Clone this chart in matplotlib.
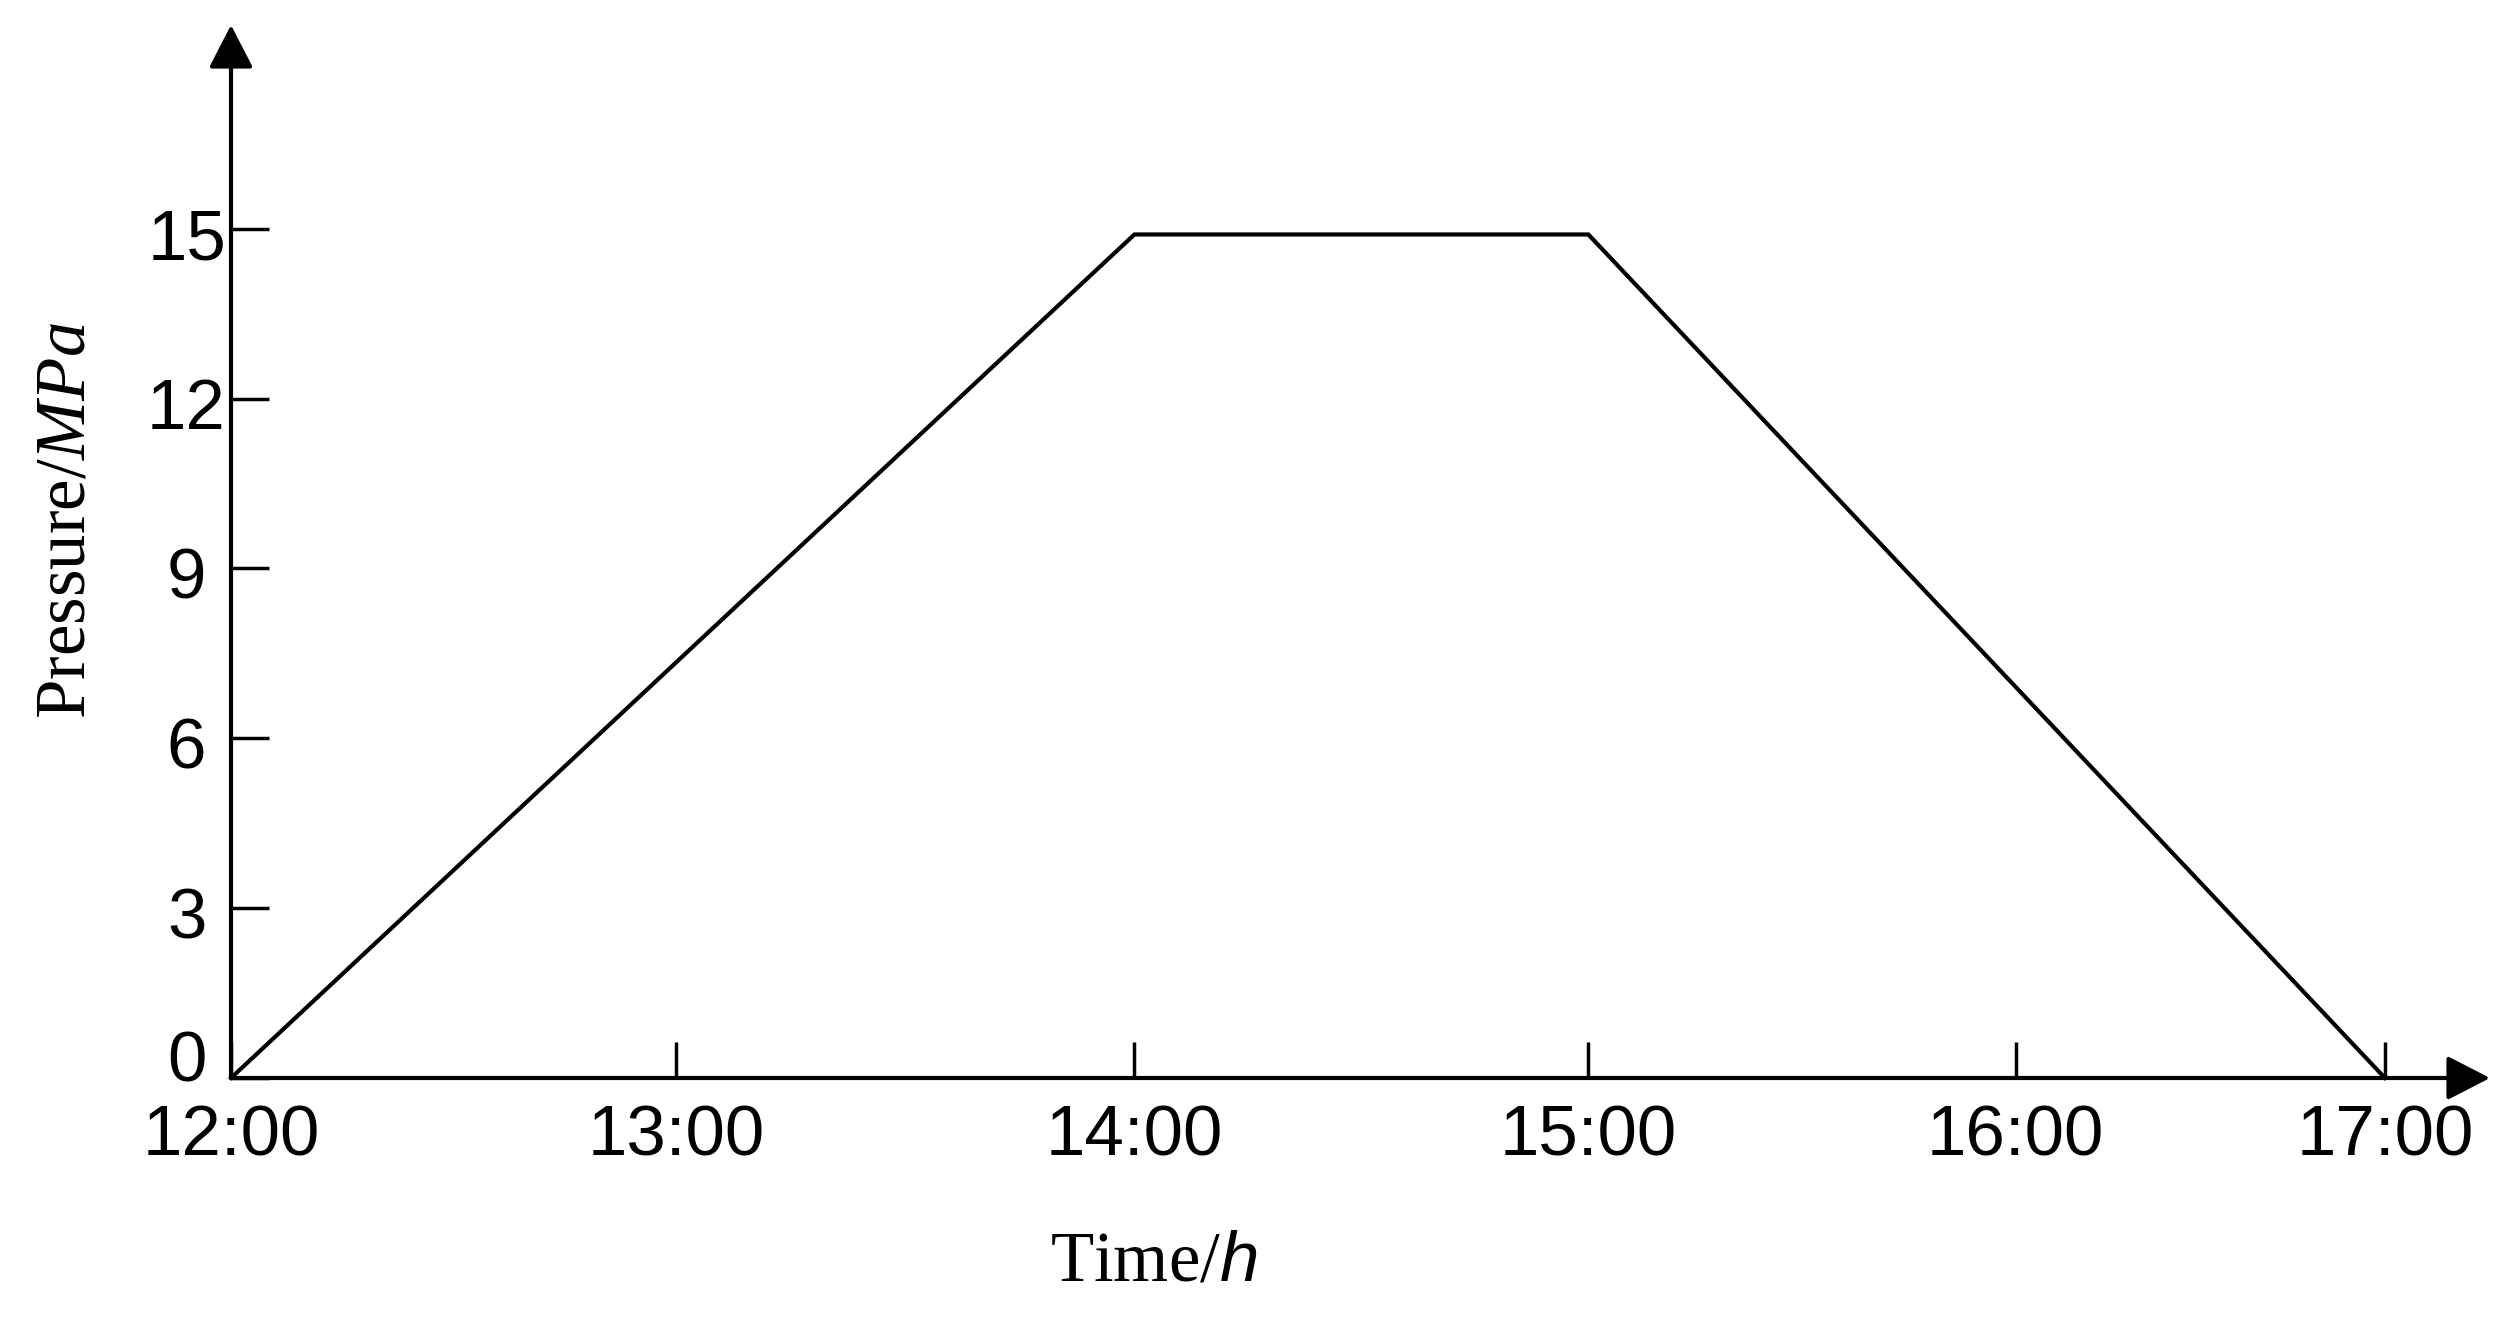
import matplotlib
matplotlib.use("Agg")
import matplotlib.pyplot as plt
from matplotlib.transforms import ScaledTranslation

# ---- data ----
time_labels = ["12:00", "13:00", "14:00", "15:00", "16:00", "17:00"]
tick_pos = [0.0, 1.0, 2.03, 3.05, 4.01, 4.84]   # drawn positions of the time ticks
line_times = ["12:00", "14:00", "15:00", "17:00"]
pressure = [0, 14.9, 14.9, 0]
y_ticks = [0, 3, 6, 9, 12, 15]

plt.rcParams['mathtext.fontset'] = 'custom'
plt.rcParams['mathtext.rm'] = 'Liberation Serif'
plt.rcParams['mathtext.it'] = 'Liberation Serif:italic'
plt.rcParams['mathtext.sf'] = 'Liberation Sans:italic'

W, H = 2513, 1324
fig = plt.figure(figsize=(W / 100, H / 100), dpi=100)
ax = fig.add_axes([231 / W, 246 / H, 2259 / W, 1053 / H])

pos_of = dict(zip(time_labels, tick_pos))
xs = [pos_of[t] for t in line_times]
ax.plot(xs, pressure, color='black', lw=3.0, clip_on=False, solid_joinstyle='miter')

ax.set_xlim(0, 5.076)
ax.set_ylim(0, 18.6)

for s in ax.spines.values():
    s.set_visible(False)

ax.set_xticks(tick_pos)
ax.set_xticklabels(time_labels, fontfamily='Liberation Sans', fontsize=51)
ax.set_yticks(y_ticks)
ax.set_yticklabels([str(v) for v in y_ticks], fontfamily='Liberation Sans', fontsize=51, ha='center')
ax.tick_params(axis='x', direction='in', length=26, width=2.5, pad=19, color='black')
ax.tick_params(axis='y', direction='in', length=27, width=2.5, pad=32, color='black')

# small vertical offsets of y tick labels as drawn in the figure
for lab in ax.get_yticklabels():
    dy = 0.22 if lab.get_text() == '0' else -0.05
    lab.set_transform(lab.get_transform() + ScaledTranslation(0, dy, fig.dpi_scale_trans))

# axis arrows
arrow_kw = dict(arrowstyle='-|>,head_length=2.66,head_width=1.37', mutation_scale=10,
                lw=3.0, color='black', shrinkA=0, shrinkB=0)
ax.annotate('', xy=(1, 0), xytext=(0, 0), xycoords='axes fraction',
            textcoords='axes fraction', arrowprops=arrow_kw, annotation_clip=False)
ax.annotate('', xy=(0, 1), xytext=(0, 0), xycoords='axes fraction',
            textcoords='axes fraction', arrowprops=arrow_kw, annotation_clip=False)

fig.text(1154 / W, 1 - 1280 / H, r'Time/$\mathsf{h}$', fontfamily='Liberation Serif', fontsize=51,
         ha='center', va='baseline')
fig.text(85 / W, 1 - 521 / H, 'Pressure/$MPa$', fontfamily='Liberation Serif', fontsize=51,
         rotation=90, rotation_mode='anchor', ha='center', va='baseline')

fig.savefig('out.png', dpi=100, facecolor='white')
